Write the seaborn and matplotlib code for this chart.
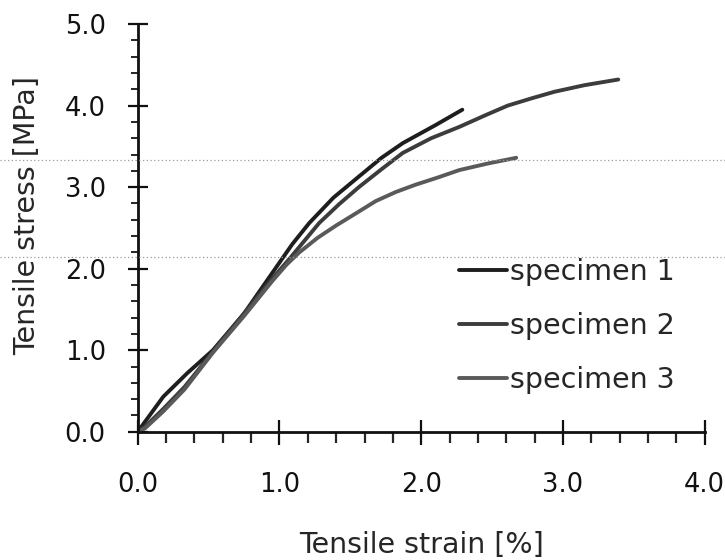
import numpy as np
import pandas as pd
import matplotlib
matplotlib.use("Agg")
import matplotlib.pyplot as plt
from matplotlib.lines import Line2D
from matplotlib.ticker import MultipleLocator, FormatStrFormatter
import seaborn as sns

# strain [%] / stress [MPa]
strain_1 = [0.0, 0.05, 0.18, 0.35, 0.53, 0.75, 0.95, 1.09, 1.21, 1.38, 1.56, 1.72, 1.87, 2.10, 2.29]
stress_1 = [0.0, 0.12, 0.43, 0.72, 1.00, 1.45, 1.95, 2.30, 2.56, 2.87, 3.13, 3.36, 3.54, 3.76, 3.95]

strain_2 = [0.0, 0.05, 0.18, 0.33, 0.53, 0.75, 0.95, 1.07, 1.28, 1.42, 1.56, 1.72, 1.87, 2.07, 2.27,
            2.45, 2.61, 2.78, 2.94, 3.15, 3.39]
stress_2 = [0.0, 0.06, 0.28, 0.55, 0.98, 1.45, 1.88, 2.12, 2.56, 2.79, 3.00, 3.22, 3.42, 3.60, 3.74,
            3.88, 4.00, 4.09, 4.17, 4.25, 4.32]

strain_3 = [0.0, 0.05, 0.18, 0.33, 0.53, 0.75, 0.95, 1.05, 1.14, 1.27, 1.40, 1.55, 1.68, 1.82, 1.96,
            2.12, 2.27, 2.47, 2.67]
stress_3 = [0.0, 0.04, 0.25, 0.52, 0.97, 1.42, 1.85, 2.05, 2.20, 2.38, 2.53, 2.69, 2.83, 2.94, 3.03,
            3.12, 3.21, 3.29, 3.36]

labels = ["specimen 1", "specimen 2", "specimen 3"]
colors = ["#1e1e1e", "#3c3c3c", "#5a5a5a"]

frames = []
for lab, xs, ys in zip(labels, [strain_1, strain_2, strain_3], [stress_1, stress_2, stress_3]):
    frames.append(pd.DataFrame({"strain": xs, "stress": ys, "specimen": lab}))
df = pd.concat(frames, ignore_index=True)

sns.set_style("ticks")
plt.rcParams["font.family"] = ["DejaVu Sans"]

fig = plt.figure(figsize=(7.25, 5.6), dpi=100)
ax = fig.add_axes([0.19, 0.229, 0.782, 0.728])

sns.lineplot(data=df, x="strain", y="stress", hue="specimen", palette=colors,
             estimator=None, sort=False, linewidth=2.8, ax=ax)

ax.set_xlim(0, 4.0)
ax.set_ylim(0, 5.0)
ax.xaxis.set_major_locator(MultipleLocator(1.0))
ax.xaxis.set_minor_locator(MultipleLocator(0.2))
ax.yaxis.set_major_locator(MultipleLocator(1.0))
ax.yaxis.set_minor_locator(MultipleLocator(0.2))
ax.xaxis.set_major_formatter(FormatStrFormatter("%.1f"))
ax.yaxis.set_major_formatter(FormatStrFormatter("%.1f"))

ax.tick_params(axis="x", which="major", direction="inout", length=18, width=1.6,
               labelsize=18.5, pad=20, colors="#111111")
ax.tick_params(axis="x", which="minor", direction="out", length=8, width=1.6)
ax.tick_params(axis="y", which="major", direction="inout", length=14, width=1.6,
               labelsize=18.5, pad=16, colors="#111111")
ax.tick_params(axis="y", which="minor", direction="out", length=5, width=1.4)

sns.despine(ax=ax)
for s in ["left", "bottom"]:
    ax.spines[s].set_linewidth(2.0)
    ax.spines[s].set_color("#111111")

ax.set_xlabel("Tensile strain [%]", fontsize=20.5, labelpad=24)
ax.set_ylabel("Tensile stress [MPa]", fontsize=20.5)
ax.yaxis.set_label_coords(-0.17, 0.53)

ax.legend(loc="upper left", bbox_to_anchor=(0.546, 0.455), frameon=False,
          fontsize=20.5, handlelength=1.7, handletextpad=0.1, labelspacing=0.92,
          borderaxespad=0)

# faint dotted scan lines across the page
for yf in [1 - 160 / 560, 1 - 257 / 560]:
    fig.add_artist(Line2D([0, 1], [yf, yf], transform=fig.transFigure,
                          color="#9a9a9a", linestyle=(0, (1, 2)), linewidth=0.9))

fig.savefig("out.png", dpi=100)
